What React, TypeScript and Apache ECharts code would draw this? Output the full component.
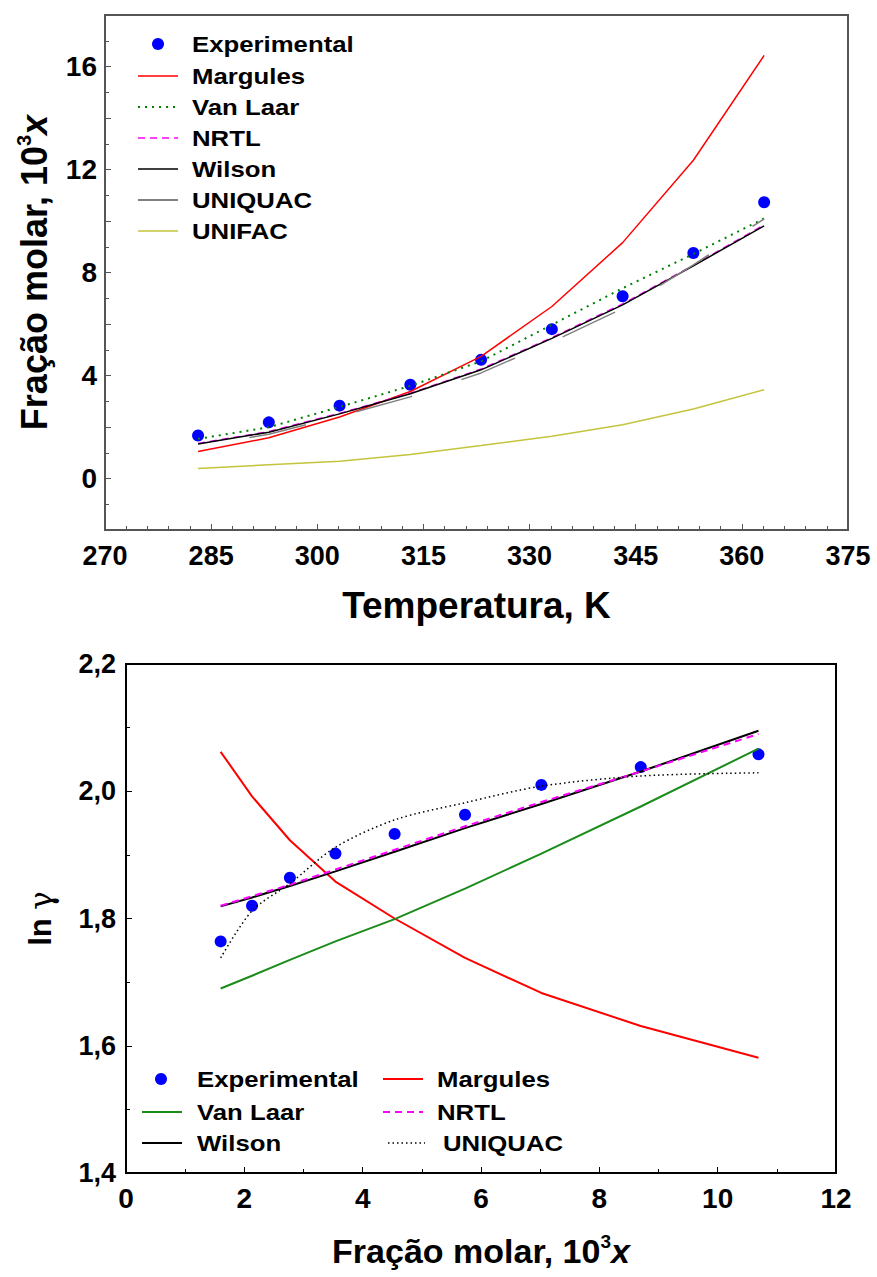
import React, { useEffect, useRef } from "react";
import * as echarts from "echarts";

// ---------- Top chart data (Temperature vs 10^3 x) ----------
const temperatures = [283.15, 293.15, 303.15, 313.15, 323.15, 333.15, 343.15, 353.15, 363.15];
const expTop = [1.67, 2.18, 2.83, 3.64, 4.61, 5.8, 7.08, 8.76, 10.73];
const margulesTop = [1.05, 1.58, 2.39, 3.38, 4.74, 6.68, 9.16, 12.36, 16.43];
const vanLaarTop = [1.54, 1.99, 2.78, 3.6, 4.55, 5.97, 7.39, 8.72, 10.1];
const nrtlTop = [1.36, 1.82, 2.53, 3.31, 4.25, 5.47, 6.78, 8.28, 9.85];
const wilsonTop = [1.34, 1.8, 2.51, 3.29, 4.22, 5.44, 6.74, 8.26, 9.81];
const uniquacTop = [1.25, 1.72, 2.42, 3.17, 4.1, 5.3, 6.6, 8.3, 10.08];
const unifacTop = [0.39, 0.53, 0.67, 0.93, 1.28, 1.64, 2.09, 2.7, 3.45];

// ---------- Bottom chart data (10^3 x vs ln gamma) ----------
const xBottom = [1.6, 2.13, 2.77, 3.54, 4.54, 5.73, 7.02, 8.7, 10.69];
const expBottom = [1.764, 1.82, 1.864, 1.902, 1.933, 1.963, 2.01, 2.038, 2.058];
const margulesBottom = [2.062, 1.992, 1.923, 1.858, 1.8, 1.738, 1.683, 1.631, 1.581];
const vanLaarBottom = [1.69, 1.71, 1.735, 1.764, 1.799, 1.847, 1.902, 1.976, 2.067];
const wilsonBottom = [1.819, 1.833, 1.851, 1.874, 1.905, 1.942, 1.98, 2.031, 2.095];
const nrtlBottom = [1.82, 1.835, 1.853, 1.877, 1.908, 1.945, 1.983, 2.031, 2.09];
const uniquacBottom = [1.738, 1.812, 1.855, 1.912, 1.955, 1.982, 2.008, 2.024, 2.029];

const pairs = (xs: number[], ys: number[]) => xs.map((x, i) => [x, ys[i]]);

const FONT = "'Liberation Sans', Arial, sans-serif";

const COLORS = {
  exp: "#0000ff",
  margules: "#ff0000",
  vanLaarTop: "#008000",
  vanLaarBottom: "#1a8c1a",
  nrtl: "#ff00ff",
  wilson: "#000000",
  uniquacTop: "#808080",
  unifac: "#c4c43c",
};

const legendText = (x: number, y: number, text: string) => ({
  type: "text",
  x,
  y,
  scaleX: 1.12,
  style: {
    text,
    font: `bold 23px ${FONT}`,
    fill: "#000",
    align: "left",
    verticalAlign: "middle",
    textAlign: "left",
    textVerticalAlign: "middle",
  },
});

const legendLine = (x1: number, x2: number, y: number, stroke: string, width: number, dash?: number[]) => ({
  type: "line",
  shape: { x1, y1: y, x2, y2: y },
  style: { stroke, lineWidth: width, lineDash: dash || null },
});

const legendDot = (cx: number, cy: number) => ({
  type: "circle",
  shape: { cx, cy, r: 6 },
  style: { fill: COLORS.exp },
});

export default function App() {
  const ref = useRef<HTMLDivElement>(null);

  useEffect(() => {
    if (!ref.current) return;
    const chart = echarts.init(ref.current, undefined, { renderer: "svg" });

    const topRows = [44, 76, 107, 138, 169, 200, 231];
    const graphics: any[] = [
      legendDot(158, topRows[0]),
      legendText(192, topRows[0], "Experimental"),
      legendLine(138, 178, topRows[1], COLORS.margules, 1.5),
      legendText(192, topRows[1], "Margules"),
      legendLine(138, 178, topRows[2], COLORS.vanLaarTop, 2, [2, 5]),
      legendText(192, topRows[2], "Van Laar"),
      legendLine(138, 178, topRows[3], COLORS.nrtl, 1.5, [7, 5]),
      legendText(192, topRows[3], "NRTL"),
      legendLine(138, 178, topRows[4], COLORS.wilson, 1.5),
      legendText(192, topRows[4], "Wilson"),
      legendLine(138, 178, topRows[5], COLORS.uniquacTop, 2),
      legendText(192, topRows[5], "UNIQUAC"),
      legendLine(138, 178, topRows[6], COLORS.unifac, 1.5),
      legendText(192, topRows[6], "UNIFAC"),
      // bottom legend
      legendDot(161, 1079),
      legendText(197, 1079, "Experimental"),
      legendLine(142, 182, 1112, COLORS.vanLaarBottom, 2),
      legendText(197, 1112, "Van Laar"),
      legendLine(142, 182, 1143, COLORS.wilson, 2),
      legendText(197, 1143, "Wilson"),
      legendLine(383, 423, 1079, COLORS.margules, 2),
      legendText(437, 1079, "Margules"),
      legendLine(383, 423, 1112, COLORS.nrtl, 2, [7, 5]),
      legendText(437, 1112, "NRTL"),
      legendLine(388, 425, 1143, COLORS.wilson, 1.5, [1.5, 3]),
      legendText(443, 1143, "UNIQUAC"),
    ];

    const tickLabel = (size: number) => ({
      fontFamily: FONT,
      fontWeight: "bold" as const,
      fontSize: size,
      color: "#000",
    });

    const option: any = {
      animation: false,
      backgroundColor: "#fff",
      grid: [
        { left: 105, top: 15, width: 743, height: 515, show: true, borderColor: "#555", borderWidth: 2, backgroundColor: "transparent" },
        { left: 126, top: 664, width: 710, height: 509, show: true, borderColor: "#000", borderWidth: 2, backgroundColor: "transparent" },
      ],
      xAxis: [
        {
          gridIndex: 0,
          type: "value",
          min: 270,
          max: 375,
          interval: 15,
          axisLine: { show: true, onZero: false, lineStyle: { color: "#555", width: 2 } },
          axisTick: { show: true, inside: true, length: 6, lineStyle: { color: "#555" } },
          minorTick: { show: true, splitNumber: 5, length: 4, lineStyle: { color: "#555" } },
          splitLine: { show: false },
          axisLabel: { ...tickLabel(27), margin: 12 },
          name: "Temperatura, K",
          nameLocation: "middle",
          nameGap: 57,
          nameTextStyle: { fontFamily: FONT, fontWeight: "bold", fontSize: 37, color: "#000" },
        },
        {
          gridIndex: 1,
          type: "value",
          min: 0,
          max: 12,
          interval: 2,
          axisLine: { show: true, onZero: false, lineStyle: { color: "#000", width: 2 } },
          axisTick: { show: true, inside: true, length: 6, lineStyle: { color: "#000" } },
          minorTick: { show: true, splitNumber: 2, length: 4, lineStyle: { color: "#000" } },
          splitLine: { show: false },
          axisLabel: { ...tickLabel(28), margin: 11 },
          name: "{a|Fração molar, 10}{s|3}{i|x}",
          nameLocation: "middle",
          nameGap: 59,
          nameTextStyle: {
            rich: {
              a: { fontFamily: FONT, fontWeight: "bold", fontSize: 34, color: "#000", lineHeight: 38 },
              s: { fontFamily: FONT, fontWeight: "bold", fontSize: 19, color: "#000", verticalAlign: "top", lineHeight: 38 },
              i: { fontFamily: FONT, fontWeight: "bold", fontStyle: "italic", fontSize: 34, color: "#000", lineHeight: 38 },
            },
          },
        },
      ],
      yAxis: [
        {
          gridIndex: 0,
          type: "value",
          min: -2,
          max: 18,
          interval: 2,
          axisLine: { show: true, onZero: false, lineStyle: { color: "#555", width: 2 } },
          axisTick: { show: true, inside: true, length: 6, lineStyle: { color: "#555" } },
          minorTick: { show: true, splitNumber: 2, length: 4, lineStyle: { color: "#555" } },
          splitLine: { show: false },
          axisLabel: {
            ...tickLabel(28),
            margin: 8,
            formatter: (v: number) => (Math.round(v) % 4 === 0 ? String(Math.round(v)) : ""),
          },
          name: "{a|Fração molar, 10}{s|3}{i|x}",
          nameLocation: "middle",
          nameGap: 51,
          nameRotate: 90,
          nameTextStyle: {
            rich: {
              a: { fontFamily: FONT, fontWeight: "bold", fontSize: 36, color: "#000", lineHeight: 40 },
              s: { fontFamily: FONT, fontWeight: "bold", fontSize: 20, color: "#000", verticalAlign: "top", lineHeight: 40 },
              i: { fontFamily: FONT, fontWeight: "bold", fontStyle: "italic", fontSize: 36, color: "#000", lineHeight: 40 },
            },
          },
        },
        {
          gridIndex: 1,
          type: "value",
          min: 1.4,
          max: 2.2,
          interval: 0.2,
          axisLine: { show: true, onZero: false, lineStyle: { color: "#000", width: 2 } },
          axisTick: { show: true, inside: true, length: 6, lineStyle: { color: "#000" } },
          minorTick: { show: true, splitNumber: 2, length: 4, lineStyle: { color: "#000" } },
          splitLine: { show: false },
          axisLabel: {
            ...tickLabel(27),
            margin: 10,
            formatter: (v: number) => v.toFixed(1).replace(".", ","),
          },
          name: "{a|ln }{g|γ}",
          nameLocation: "middle",
          nameGap: 70,
          nameRotate: 90,
          nameTextStyle: {
            rich: {
              a: { fontFamily: FONT, fontWeight: "bold", fontSize: 31, color: "#000" },
              g: { fontFamily: "'DejaVu Serif', serif", fontSize: 31, color: "#000" },
            },
          },
        },
      ],
      series: [
        // top chart
        { name: "UNIFAC", type: "line", xAxisIndex: 0, yAxisIndex: 0, data: pairs(temperatures, unifacTop), symbol: "none", lineStyle: { color: COLORS.unifac, width: 1.5 } },
        { name: "Margules", type: "line", xAxisIndex: 0, yAxisIndex: 0, data: pairs(temperatures, margulesTop), symbol: "none", lineStyle: { color: COLORS.margules, width: 1.5 } },
        { name: "Van Laar", type: "line", xAxisIndex: 0, yAxisIndex: 0, data: pairs(temperatures, vanLaarTop), symbol: "none", lineStyle: { color: COLORS.vanLaarTop, width: 2, type: [2, 5] } },
        { name: "NRTL", type: "line", xAxisIndex: 0, yAxisIndex: 0, data: pairs(temperatures, nrtlTop), symbol: "none", lineStyle: { color: COLORS.nrtl, width: 1.5, type: [7, 5] } },
        { name: "Wilson", type: "line", xAxisIndex: 0, yAxisIndex: 0, data: pairs(temperatures, wilsonTop), symbol: "none", lineStyle: { color: COLORS.wilson, width: 1.5 } },
        { name: "UNIQUAC", type: "line", xAxisIndex: 0, yAxisIndex: 0, data: pairs(temperatures, uniquacTop), symbol: "none", lineStyle: { color: COLORS.uniquacTop, width: 1.5, type: [58, 52], dashOffset: 58 } },
        { name: "Experimental", type: "scatter", xAxisIndex: 0, yAxisIndex: 0, data: pairs(temperatures, expTop), symbolSize: 12, itemStyle: { color: COLORS.exp, opacity: 1 } },
        // bottom chart
        { name: "Margules B", type: "line", xAxisIndex: 1, yAxisIndex: 1, data: pairs(xBottom, margulesBottom), symbol: "none", lineStyle: { color: COLORS.margules, width: 2 } },
        { name: "Van Laar B", type: "line", xAxisIndex: 1, yAxisIndex: 1, data: pairs(xBottom, vanLaarBottom), symbol: "none", lineStyle: { color: COLORS.vanLaarBottom, width: 2 } },
        { name: "Wilson B", type: "line", xAxisIndex: 1, yAxisIndex: 1, data: pairs(xBottom, wilsonBottom), symbol: "none", lineStyle: { color: COLORS.wilson, width: 2 } },
        { name: "NRTL B", type: "line", xAxisIndex: 1, yAxisIndex: 1, data: pairs(xBottom, nrtlBottom), symbol: "none", lineStyle: { color: COLORS.nrtl, width: 2, type: [7, 5] } },
        { name: "UNIQUAC B", type: "line", xAxisIndex: 1, yAxisIndex: 1, data: pairs(xBottom, uniquacBottom), symbol: "none", smooth: 0.3, lineStyle: { color: COLORS.wilson, width: 1.5, type: [1.5, 3] } },
        { name: "Experimental B", type: "scatter", xAxisIndex: 1, yAxisIndex: 1, data: pairs(xBottom, expBottom), symbolSize: 12, itemStyle: { color: COLORS.exp, opacity: 1 } },
      ],
      graphic: graphics,
    };

    chart.setOption(option);
    return () => chart.dispose();
  }, []);

  return <div ref={ref} style={{ position: "absolute", left: 0, top: 0, width: 877, height: 1277 }} />;
}
